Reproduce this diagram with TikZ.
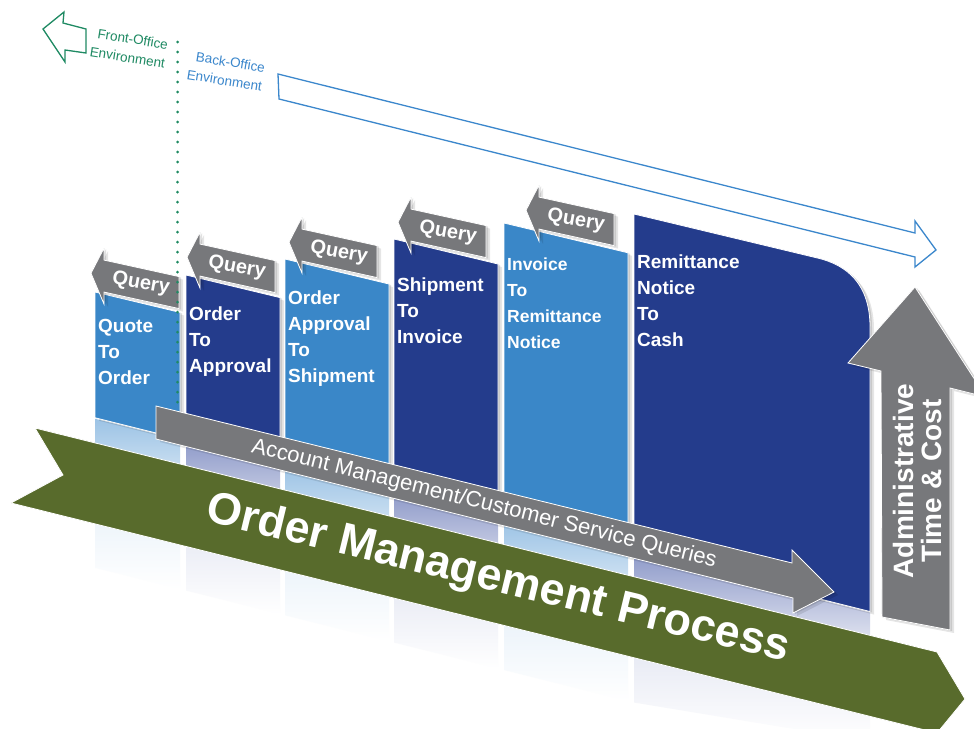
\documentclass[tikz,border=0pt]{standalone}
\usepackage{fontspec}
\setmainfont{Liberation Sans}
\definecolor{lblue}{HTML}{3A87C8}
\definecolor{navy}{HTML}{243C8C}
\definecolor{tabgray}{HTML}{77787B}
\definecolor{olive}{HTML}{586B2C}
\definecolor{foGreen}{HTML}{1F8A63}
\definecolor{boBlue}{HTML}{3B87CC}
\definecolor{reflL}{HTML}{9CC3E5}
\definecolor{reflN}{HTML}{8E9AC9}
\tikzset{
  softshadow/.style={
    preaction={fill=black,opacity=0.10,transform canvas={xshift=4pt,yshift=-3pt}},
    preaction={fill=black,opacity=0.12,transform canvas={xshift=2pt,yshift=-1pt}}},
  colbox/.style={softshadow,draw=white,line width=0.8pt},
  lightcol/.style={colbox,fill=lblue},
  darkcol/.style={colbox,fill=navy},
  coltext/.style={text=white,font=\bfseries\fontsize{19}{26}\selectfont,align=left,anchor=north west,inner sep=0pt},
  tabshape/.style={softshadow,fill=tabgray,draw=white,line width=0.8pt},
  tabtext/.style={text=white,font=\bfseries\fontsize{20}{24}\selectfont,rotate=-10,inner sep=0pt},
  reflLight/.style={top color=reflL,bottom color=white,middle color=reflL!22},
  reflDark/.style={top color=reflN,bottom color=white,middle color=reflN!22},
  bigarrow/.style={draw=white,line width=0.8pt},
  outline/.style={line width=1.3pt,line join=miter},
}
\newcommand\querytab[3]{%
  \begin{scope}[shift={(#1,#2)},yslant=-0.22]
    \path[tabshape] (-49,0) -- (-36,-28) -- (-36,-16) -- (39,-16) -- (39,16) -- (-36,16) -- (-36,28) -- cycle;
  \end{scope}
  \node[tabtext] (#3) at (#1+1,#2) {Query};
}
\begin{document}
\begin{tikzpicture}[x=1pt,y=-1pt]
\path[use as bounding box] (0,0) rectangle (974,728);
\clip (0,0) rectangle (974,728);
\fill[white] (0,0) rectangle (974,728);

% reflections
\shade[reflLight] (95,418.75) -- (180,440) -- (180,589) -- (95,567.75) -- cycle;
\shade[reflDark]  (186,441.5) -- (280,465) -- (280,614) -- (186,590.5) -- cycle;
\shade[reflLight] (285,466.25) -- (389,492.25) -- (389,641.25) -- (285,615.25) -- cycle;
\shade[reflDark]  (394,493.5) -- (498,519.5) -- (498,668.5) -- (394,642.5) -- cycle;
\shade[reflLight] (504,521) -- (628,552) -- (628,701) -- (504,670) -- cycle;
\shade[reflDark]  (634,553.5) -- (870,612.5) -- (870,741.5) -- (634,702.5) -- cycle;

% columns
\path[lightcol] (95,292) -- (180,312.4) -- (180,439) -- (95,417.75) -- cycle;
\path[darkcol]  (186,275) -- (280,297.6) -- (280,464) -- (186,440.5) -- cycle;
\path[lightcol] (285,259) -- (389,284) -- (389,491.25) -- (285,465.25) -- cycle;
\path[darkcol]  (394,239) -- (498,264) -- (498,518.5) -- (394,492.5) -- cycle;
\path[lightcol] (504,223) -- (628,252.8) -- (628,551) -- (504,520) -- cycle;
\path[darkcol]  (634,214) -- (817,257.9) .. controls (848,265) and (870,285) .. (870,327) -- (870,611.5) -- (634,552.5) -- cycle;

% query tabs
\querytab{140}{284}{q1}
\querytab{236}{268}{q2}
\querytab{338}{253}{q3}
\querytab{447}{233}{q4}
\querytab{575}{221}{q5}

% column texts
\node[coltext] (c1) at (98,319) {Quote\\To\\Order};
\node[coltext] (c2) at (189,307) {Order\\To\\Approval};
\node[coltext] (c3) at (288,291) {Order\\Approval\\To\\Shipment};
\node[coltext] (c4) at (397,278) {Shipment\\To\\Invoice};
\node[coltext,font=\bfseries\fontsize{17.5}{26}\selectfont] (c5) at (507,258) {Invoice\\To\\Remittance\\Notice};
\node[coltext] (c6) at (637,255) {Remittance\\Notice\\To\\Cash};

% green process arrow
\path[bigarrow,fill=olive] (35,428) -- (937,652) -- (965,699) -- (937,733) -- (11,503) -- (63,475) -- cycle;
\node[text=white,font=\bfseries\fontsize{45}{50}\selectfont,rotate=-13.6] (omp) at (498,580) {Order Management Process};

% gray queries arrow
\path[bigarrow,fill=tabgray,softshadow] (156,406) -- (792,563) -- (792,550) -- (834,592) -- (793,613) -- (793,598) -- (156,439) -- cycle;
\node[text=white,font=\fontsize{22}{26}\selectfont,rotate=-13.9] (amq) at (484,504) {Account Management/Customer Service Queries};

% dotted divider
\coordinate (dtop) at (177.5,42);
\coordinate (dbot) at (177.5,405);
\draw[foGreen,line width=3pt,line cap=round,dash pattern=on 0pt off 10pt] (dtop) -- (dbot);

% outline arrows and labels
\draw[outline,boBlue] (278,74) -- (915,233) -- (915,221) -- (936,250) -- (915,267) -- (915,257) -- (279,99) -- cycle;
\draw[outline,foGreen] (43,29) -- (64,12) -- (63,23) -- (86,29) -- (86,53) -- (65,50) -- (65,62) -- cycle;
\node[text=foGreen,font=\fontsize{13.5}{19}\selectfont,align=right,rotate=-9] (fo) at (129,48) {Front-Office\\Environment};
\node[text=boBlue,font=\fontsize{13.5}{19}\selectfont,align=right,rotate=-9] (bo) at (226,71) {Back-Office\\Environment};

% administrative arrow
\path[bigarrow,fill=tabgray,softshadow] (915,287) -- (986,397) -- (950,388) -- (950,630) -- (882,617) -- (881,371) -- (848,363) -- cycle;
\node[rotate=90,align=center,text=white,font=\bfseries\fontsize{28}{28}\selectfont] (atc) at (917,481) {Administrative\\Time \& Cost};
\end{tikzpicture}
\end{document}
